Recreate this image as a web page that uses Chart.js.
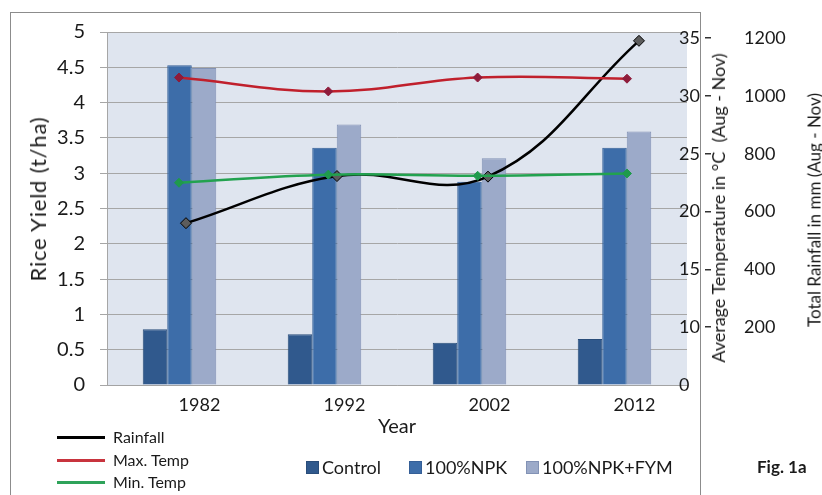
<!DOCTYPE html>
<html><head><meta charset="utf-8">
<script src="https://cdn.jsdelivr.net/npm/chart.js@4.4.1/dist/chart.umd.min.js"></script>
<style>
html,body{margin:0;padding:0;background:#fff;overflow:hidden;}
#wrap{position:relative;width:822px;height:495px;font-family:Lato,"Open Sans",sans-serif;color:#1a1a1a;}
#frame{position:absolute;left:10px;top:12px;width:691px;height:520px;border:1px solid #8c8c8c;box-sizing:border-box;}
canvas{position:absolute;left:0;top:0;}
.rot{position:absolute;white-space:pre;transform:translate(-50%,-50%) rotate(-90deg);line-height:1;}
.abs{position:absolute;white-space:pre;line-height:1;}
</style>
</head><body>
<div id="wrap">
  <div id="frame"></div>
  <canvas id="cvBars" width="822" height="495"></canvas>
  <canvas id="cvLines" width="822" height="495"></canvas>
  <div class="rot" style="left:38px;top:199px;font-size:22px;letter-spacing:0.8px;">Rice Yield (t/ha)</div>
  <div class="rot" style="left:718px;top:208px;font-size:18px;">Average Temperature in °C  (Aug - Nov)</div>
  <div class="rot" style="left:814px;top:210px;font-size:17px;">Total Rainfall in mm (Aug - Nov)</div>
  <div id="legLines"></div>
  <div id="legBars"></div>
  <div class="abs" style="left:757px;top:458px;font-size:17px;font-weight:bold;">Fig. 1a</div>
</div>
<script>
// ---- data ----
const categories = ['1982', '1992', '2002', '2012'];
const controlYield = [0.79, 0.72, 0.60, 0.65];
const npkYield = [4.53, 3.36, 2.88, 3.36];
const fymYield = [4.49, 3.69, 3.21, 3.59];
const rainfall = [560, 723, 721, 1191];
const maxTemp = [31.6, 30.4, 31.6, 31.5];
const minTemp = [22.5, 23.2, 23.1, 23.3];
const yieldTicks = [0, 0.5, 1, 1.5, 2, 2.5, 3, 3.5, 4, 4.5, 5];
const tempTicks = [5, 10, 15, 20, 25, 30, 35];
const tempTickLabels = ['0', '10', '15', '20', '25', '30', '35'];
const rainTicks = [200, 400, 600, 800, 1000, 1200];
const barNames = ['Control', '100%NPK', '100%NPK+FYM'];
const lineNames = ['Rainfall', 'Max. Temp', 'Min. Temp'];

const years = categories.map(Number);
const pts = arr => years.map((x, i) => ({x: x, y: arr[i]}));

Chart.defaults.font.family = 'Lato, "Open Sans", sans-serif';
Chart.defaults.color = '#1a1a1a';

// shared axis ranges (both canvases use the same plot area)
const TEMP_MIN = 5, TEMP_MAX = 35.54, RAIN_MIN = 0, RAIN_MAX = 1221.5;

const plotBg = {
  id: 'plotBg',
  beforeDraw(c) {
    const {ctx, chartArea: a} = c;
    ctx.save();
    ctx.fillStyle = '#dfe5ef';
    ctx.fillRect(a.left, a.top, a.right - a.left, a.bottom - a.top);
    ctx.restore();
  }
};
const noPad = s => { s.paddingTop = 0; s.paddingBottom = 0; };

const barColors = ['#30598d', '#3d6da9', '#9caac9'];
const barBorders = ['#294d7a', '#355f97', '#8292b5'];
const lineColors = ['#000000', '#c0202c', '#22a24f'];

// ---- chart 1: bars + all axes ----
new Chart(document.getElementById('cvBars'), {
  type: 'bar',
  plugins: [plotBg],
  data: {
    labels: categories,
    datasets: [
      {label: barNames[0], data: controlYield, backgroundColor: barColors[0], borderColor: barBorders[0], borderWidth: 1},
      {label: barNames[1], data: npkYield, backgroundColor: barColors[1], borderColor: barBorders[1], borderWidth: 1},
      {label: barNames[2], data: fymYield, backgroundColor: barColors[2], borderColor: barBorders[2], borderWidth: 1}
    ]
  },
  options: {
    responsive: false,
    animation: false,
    events: [],
    layout: {padding: {top: 32, bottom: 56, left: 0, right: 0}},
    categoryPercentage: 0.507,
    barPercentage: 1.0,
    plugins: {legend: {display: false}, tooltip: {enabled: false}},
    scales: {
      x: {
        type: 'category', position: 'bottom', offset: true,
        grid: {display: false, drawTicks: false},
        border: {display: true, color: '#a3a3a3', width: 1},
        ticks: {font: {size: 18}, padding: 9, labelOffset: 20, maxRotation: 0, autoSkip: false},
        title: {display: true, text: 'Year', font: {size: 20}, padding: {top: 0, bottom: 0}},
        afterFit(s) { s.height = 54; }
      },
      y: {
        position: 'left', min: 0, max: 5,
        afterBuildTicks(s) { s.ticks = yieldTicks.map(v => ({value: v})); },
        ticks: {font: {size: 20}, padding: 15, callback: v => String(v)},
        grid: {color: '#a6a6a6', tickLength: 7, drawTicks: true},
        border: {color: '#a6a6a6'},
        afterFit(s) { s.width = 107; noPad(s); }
      },
      yTemp: {
        position: 'right', min: TEMP_MIN, max: TEMP_MAX, weight: 0,
        afterBuildTicks(s) { s.ticks = tempTicks.map(v => ({value: v})); },
        grid: {display: false, drawTicks: false},
        border: {display: false},
        ticks: {font: {size: 18}, padding: -8, callback: v => tempTickLabels[tempTicks.indexOf(v)]},
        afterFit(s) { s.width = 18; noPad(s); },
        afterUpdate(s) { s._computeLabelArea = () => undefined; }
      },
      yRain: {
        position: 'right', min: RAIN_MIN, max: RAIN_MAX, weight: 1,
        afterBuildTicks(s) { s.ticks = rainTicks.map(v => ({value: v})); },
        grid: {display: true, drawOnChartArea: false, drawTicks: true, tickLength: 6, color: '#333', lineWidth: 1.5},
        border: {display: false},
        ticks: {font: {size: 18}, padding: 33, callback: v => String(v)},
        afterFit(s) { s.width = 117; noPad(s); }
      }
    }
  }
});

// ---- chart 2: lines, overlaid on the same plot area ----
new Chart(document.getElementById('cvLines'), {
  type: 'line',
  data: {
    datasets: [
      {label: lineNames[2], data: pts(minTemp), xAxisID: 'xTemp', yAxisID: 'yTemp',
       borderColor: lineColors[2], borderWidth: 2.5, tension: 0.4, pointStyle: 'rectRot', pointRadius: 4.5,
       pointBackgroundColor: '#1f9a4c', pointBorderColor: '#1f9a4c', pointBorderWidth: 1},
      {label: lineNames[1], data: pts(maxTemp), xAxisID: 'xTemp', yAxisID: 'yTemp',
       borderColor: lineColors[1], borderWidth: 2.5, tension: 0.4, pointStyle: 'rectRot', pointRadius: 4.5,
       pointBackgroundColor: '#8e1b3a', pointBorderColor: '#8e1b3a', pointBorderWidth: 1},
      {label: lineNames[0], data: pts(rainfall), xAxisID: 'xRain', yAxisID: 'yRain',
       borderColor: lineColors[0], borderWidth: 2.5, tension: 0.4, pointStyle: 'rectRot', pointRadius: 5.5,
       pointBackgroundColor: '#5c5c5c', pointBorderColor: '#000', pointBorderWidth: 1}
    ]
  },
  options: {
    responsive: false,
    animation: false,
    events: [],
    layout: {padding: {top: 32, bottom: 110, left: 107, right: 135}},
    plugins: {legend: {display: false}, tooltip: {enabled: false}},
    scales: {
      xTemp: {type: 'linear', display: false, offset: false, position: 'bottom', min: 1977.18, max: 2016.02},
      xRain: {type: 'linear', display: false, offset: false, position: 'bottom', min: 1976.77, max: 2015.18},
      yTemp: {type: 'linear', display: false, position: 'right', min: TEMP_MIN, max: TEMP_MAX},
      yRain: {type: 'linear', display: false, position: 'right', min: RAIN_MIN, max: RAIN_MAX}
    }
  }
});

// ---- HTML legends ----
const legLines = document.getElementById('legLines');
const lineRowsY = [437, 460, 482];
const lineLegColors = ['#000000', '#c8343e', '#2ea35a'];
lineNames.forEach((n, i) => {
  const bar = document.createElement('div');
  bar.className = 'abs';
  bar.style.cssText = `left:57px;top:${lineRowsY[i] - 1.5}px;width:48px;height:3px;background:${lineLegColors[i]};`;
  legLines.appendChild(bar);
  const t = document.createElement('div');
  t.className = 'abs';
  t.style.cssText = `left:113px;top:${lineRowsY[i]}px;font-size:16px;transform:translateY(-50%);`;
  t.textContent = n;
  legLines.appendChild(t);
});
const legBars = document.getElementById('legBars');
const barLegX = [306, 409, 526];
barNames.forEach((n, i) => {
  const sq = document.createElement('div');
  sq.className = 'abs';
  sq.style.cssText = `left:${barLegX[i]}px;top:${467 - 6.5}px;width:13px;height:13px;background:${barColors[i]};box-sizing:border-box;border:1px solid ${barBorders[i]};`;
  legBars.appendChild(sq);
  const t = document.createElement('div');
  t.className = 'abs';
  t.style.cssText = `left:${barLegX[i] + 16}px;top:467px;font-size:18px;transform:translateY(-50%);`;
  t.textContent = n;
  legBars.appendChild(t);
});
</script>
</body></html>
